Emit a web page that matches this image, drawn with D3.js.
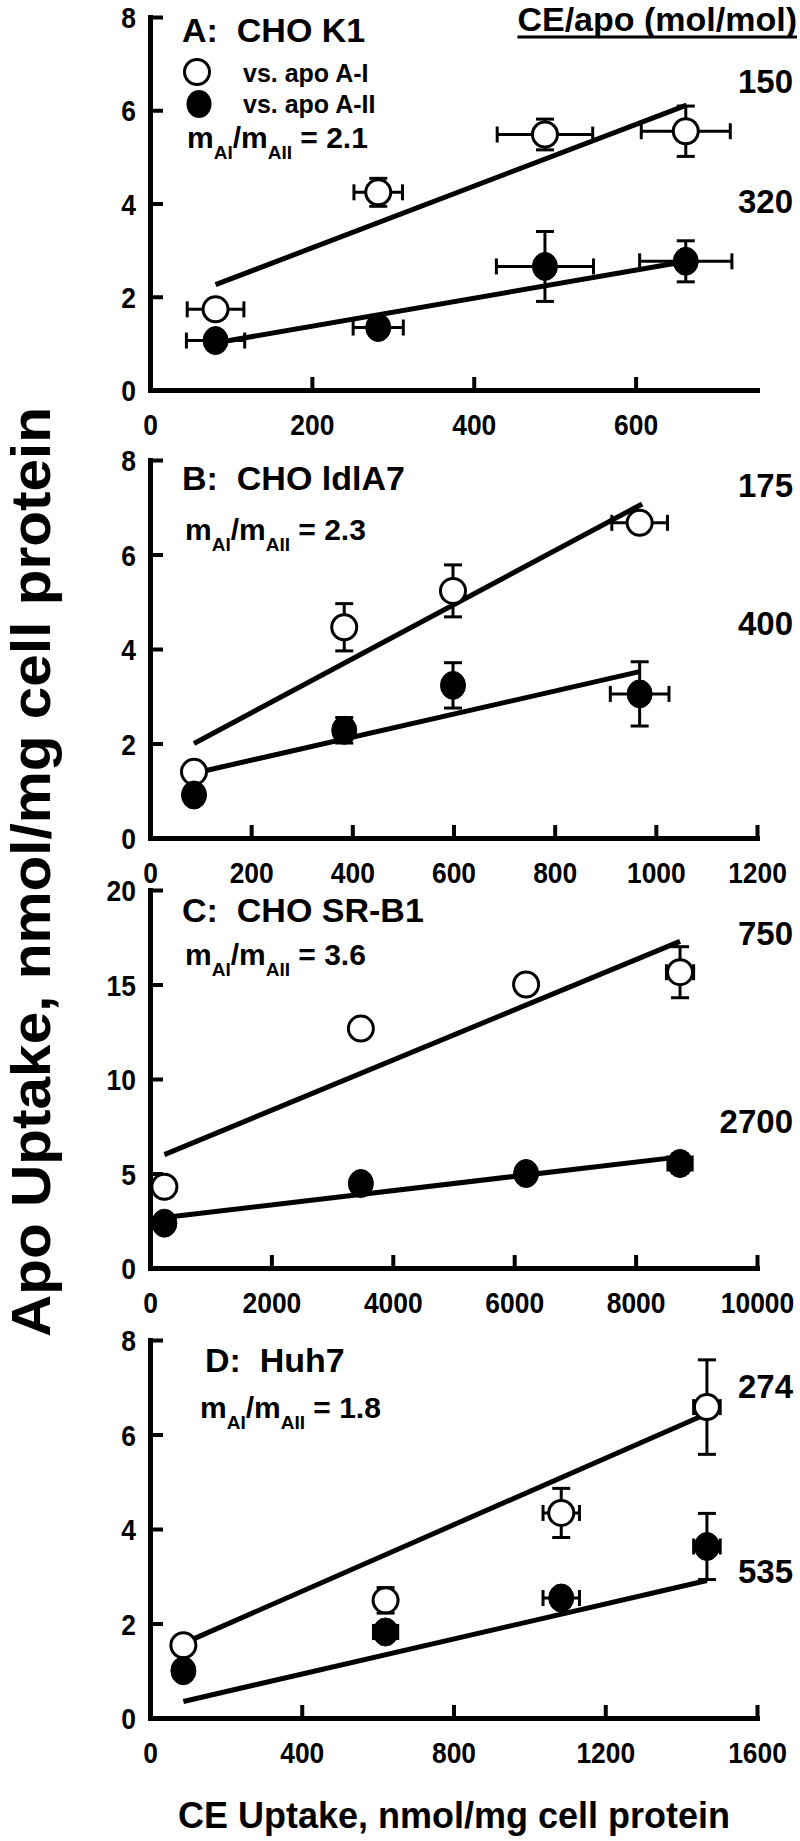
<!DOCTYPE html>
<html><head><meta charset="utf-8">
<script src="https://cdn.jsdelivr.net/npm/d3@7"></script>
<style>
body{margin:0;background:#fff;}
svg text{font-family:"Liberation Sans",Arial,Helvetica,sans-serif;font-weight:bold;fill:#000;}
</style></head><body>
<svg id="chart" width="800" height="1841"></svg>
<script>
// ---------- data ----------
const panelTitles = ["A:  CHO K1", "B:  CHO ldlA7", "C:  CHO SR-B1", "D:  Huh7"];
const slopeRatios = ["2.1", "2.3", "3.6", "1.8"];
const ceApoAI = ["150", "175", "750", "274"];
const ceApoAII = ["320", "400", "2700", "535"];
const xMax = [750, 1200, 10000, 1600];
const yMax = [8, 8, 20, 8];
const xTicks = [[0, 200, 400, 600], [0, 200, 400, 600, 800, 1000, 1200], [0, 2000, 4000, 6000, 8000, 10000], [0, 400, 800, 1200, 1600]];
const yTicks = [[0, 2, 4, 6, 8], [0, 2, 4, 6, 8], [0, 5, 10, 15, 20], [0, 2, 4, 6, 8]];

// CE uptake (x) per panel
const ceA = [81, 282, 488, 662];
const ceB = [87, 384, 599, 968];
const ceC = [237, 3474, 6196, 8732];
const ceD = [88, 621, 1084, 1468];
// x error (CE) for apo A-I / apo A-II points
const ceErrAI_A = [35, 30, 59, 55], ceErrAII_A = [36, 31, 60, 57];
const ceErrAI_B = [0, 0, 0, 55], ceErrAII_B = [0, 0, 0, 58];
const ceErrAI_C = [0, 0, 0, 224], ceErrAII_C = [0, 0, 0, 200];
const ceErrAI_D = [0, 0, 48, 35], ceErrAII_D = [0, 32, 48, 35];
// apo A-I uptake (open) and errors
const apoAI_A = [1.73, 4.24, 5.48, 5.55], apoAIErr_A = [0, 0.3, 0.33, 0.54];
const apoAI_B = [1.40, 4.46, 5.23, 6.67], apoAIErr_B = [0, 0.5, 0.55, 0.1];
const apoAI_C = [4.30, 12.67, 15.0, 15.65], apoAIErr_C = [0, 0, 0, 1.35];
const apoAI_D = [1.54, 2.49, 4.34, 6.58], apoAIErr_D = [0, 0.27, 0.52, 1.0];
// apo A-II uptake (filled) and errors
const apoAII_A = [1.06, 1.34, 2.65, 2.76], apoAIIErr_A = [0, 0, 0.75, 0.44];
const apoAII_B = [0.91, 2.28, 3.23, 3.05], apoAIIErr_B = [0, 0.27, 0.48, 0.68];
const apoAII_C = [2.37, 4.47, 5.0, 5.53], apoAIIErr_C = [0, 0, 0, 0.5];
const apoAII_D = [1.0, 1.82, 2.54, 3.63], apoAIIErr_D = [0, 0, 0, 0.7];
// regression lines [x0, y0, x1, y1]
const fitAI_A = [81, 2.26, 663, 6.11], fitAII_A = [84, 1.02, 660, 2.75];
const fitAI_B = [87, 2.0, 973, 7.07], fitAII_B = [87, 1.37, 968, 3.52];
const fitAI_C = [237, 6.0, 8732, 17.28], fitAII_C = [237, 2.67, 8732, 5.88];
const fitAI_D = [88, 1.58, 1468, 6.44], fitAII_D = [88, 0.35, 1468, 2.91];

const legendLabels = ["vs. apo A-I", "vs. apo A-II"];
const yTitle = "Apo Uptake, nmol/mg cell protein";
const xTitle = "CE Uptake, nmol/mg cell protein";
const headerLabel = "CE/apo (mol/mol)";

// ---------- layout ----------
const panelTop = [17, 460, 890, 1340];
const panelBottom = [390, 838, 1268, 1718];
const xLeft = 150, xRight = 757;
const titlePos = [[182, 42], [182, 490], [182, 922], [205, 1372]];
const ratioPos = [[187, 148], [185, 540], [185, 965], [200, 1418]];
const labAIy = [93, 497, 945, 1398];
const labAIIy = [213, 635, 1133, 1583];

const svg = d3.select("#chart");

const sets = [
  {ce: ceA, eAI: ceErrAI_A, eAII: ceErrAII_A, ai: apoAI_A, aie: apoAIErr_A, aii: apoAII_A, aiie: apoAIIErr_A, fAI: fitAI_A, fAII: fitAII_A},
  {ce: ceB, eAI: ceErrAI_B, eAII: ceErrAII_B, ai: apoAI_B, aie: apoAIErr_B, aii: apoAII_B, aiie: apoAIIErr_B, fAI: fitAI_B, fAII: fitAII_B},
  {ce: ceC, eAI: ceErrAI_C, eAII: ceErrAII_C, ai: apoAI_C, aie: apoAIErr_C, aii: apoAII_C, aiie: apoAIIErr_C, fAI: fitAI_C, fAII: fitAII_C},
  {ce: ceD, eAI: ceErrAI_D, eAII: ceErrAII_D, ai: apoAI_D, aie: apoAIErr_D, aii: apoAII_D, aiie: apoAIIErr_D, fAI: fitAI_D, fAII: fitAII_D}
];

const R = 12.5, CAP = 8;

sets.forEach((s, i) => {
  const x = d3.scaleLinear().domain([0, xMax[i]]).range([xLeft, xRight]);
  const y = d3.scaleLinear().domain([0, yMax[i]]).range([panelBottom[i], panelTop[i]]);
  const g = svg.append("g");

  // axes
  const xAxis = d3.axisBottom(x).tickValues(xTicks[i]).tickFormat(d3.format("d"))
    .tickSizeInner(-13).tickSizeOuter(0).tickPadding(24);
  const yAxis = d3.axisLeft(y).tickValues(yTicks[i]).tickFormat(d3.format("d"))
    .tickSizeInner(-13).tickSizeOuter(0).tickPadding(16);
  const gx = g.append("g").attr("transform", `translate(0,${y(0)})`).call(xAxis);
  const gy = g.append("g").attr("transform", `translate(${xLeft},0)`).call(yAxis);
  [gx, gy].forEach(a => {
    a.select(".domain").attr("stroke", "#000").attr("stroke-width", 5).attr("stroke-linecap", "square");
    a.selectAll(".tick line").attr("stroke", "#000").attr("stroke-width", 4);
    a.selectAll(".tick text").style("font-size", "30px").attr("transform", "scale(0.88,1)");
  });
  gy.selectAll(".tick text").attr("dy", "0.35em");
  gx.selectAll(".tick").filter(d => d === 0).select("line").remove();
  gy.selectAll(".tick").filter(d => d === 0).select("line").remove();

  // fit lines
  [s.fAI, s.fAII].forEach(f => {
    g.append("line").attr("x1", x(f[0])).attr("y1", y(f[1])).attr("x2", x(f[2])).attr("y2", y(f[3]))
      .attr("stroke", "#000").attr("stroke-width", 5);
  });

  // error bars + markers
  const series = [
    {ys: s.ai, ye: s.aie, xe: s.eAI, open: true},
    {ys: s.aii, ye: s.aiie, xe: s.eAII, open: false}
  ];
  series.forEach(se => {
    const eb = g.append("g").attr("stroke", "#000").attr("stroke-width", 3).attr("fill", "none");
    s.ce.forEach((cx, k) => {
      const px = x(cx), py = y(se.ys[k]);
      if (se.xe[k] > 0) {
        const x0 = x(cx - se.xe[k]), x1 = x(cx + se.xe[k]);
        eb.append("line").attr("x1", x0).attr("x2", x1).attr("y1", py).attr("y2", py);
        eb.append("line").attr("x1", x0).attr("x2", x0).attr("y1", py - CAP).attr("y2", py + CAP);
        eb.append("line").attr("x1", x1).attr("x2", x1).attr("y1", py - CAP).attr("y2", py + CAP);
      }
      if (se.ye[k] > 0) {
        const y0 = y(se.ys[k] - se.ye[k]), y1 = y(se.ys[k] + se.ye[k]);
        eb.append("line").attr("x1", px).attr("x2", px).attr("y1", y0).attr("y2", y1);
        eb.append("line").attr("x1", px - CAP - 1).attr("x2", px + CAP + 1).attr("y1", y0).attr("y2", y0);
        eb.append("line").attr("x1", px - CAP - 1).attr("x2", px + CAP + 1).attr("y1", y1).attr("y2", y1);
      }
    });
  });
  series.forEach(se => {
    g.append("g").selectAll("ellipse").data(s.ce).join("ellipse")
      .attr("cx", d => x(d)).attr("cy", (d, k) => y(se.ys[k]))
      .attr("rx", R).attr("ry", se.open ? R : R + 1.5)
      .attr("fill", se.open ? "#fff" : "#000").attr("stroke", "#000").attr("stroke-width", se.open ? 3 : 1);
  });

  // panel title
  g.append("text").attr("x", titlePos[i][0]).attr("y", titlePos[i][1]).style("font-size", "34px")
    .attr("xml:space", "preserve").text(panelTitles[i]);
  // slope ratio
  const rt = g.append("text").attr("x", ratioPos[i][0]).attr("y", ratioPos[i][1]).style("font-size", "30px");
  rt.append("tspan").text("m");
  rt.append("tspan").attr("dy", 11).style("font-size", "19px").text("AI");
  rt.append("tspan").attr("dy", -11).text("/m");
  rt.append("tspan").attr("dy", 11).style("font-size", "19px").text("AII");
  rt.append("tspan").attr("dy", -11).text(" = " + slopeRatios[i]);
  // CE/apo labels
  g.append("text").attr("x", 793).attr("y", labAIy[i]).attr("text-anchor", "end").style("font-size", "33px").text(ceApoAI[i]);
  g.append("text").attr("x", 793).attr("y", labAIIy[i]).attr("text-anchor", "end").style("font-size", "33px").text(ceApoAII[i]);
});

// legend (panel A)
svg.append("ellipse").attr("cx", 197).attr("cy", 72).attr("rx", R).attr("ry", R).attr("fill", "#fff").attr("stroke", "#000").attr("stroke-width", 3);
svg.append("ellipse").attr("cx", 199).attr("cy", 104).attr("rx", R).attr("ry", R + 1.5).attr("fill", "#000");
svg.append("text").attr("x", 243).attr("y", 82).style("font-size", "25px").text(legendLabels[0]);
svg.append("text").attr("x", 243).attr("y", 113).style("font-size", "25px").text(legendLabels[1]);

// header
const hd = svg.append("text").attr("x", 797).attr("y", 31).attr("text-anchor", "end").style("font-size", "34px").text(headerLabel);
const bb = hd.node().getBBox();
svg.append("line").attr("x1", bb.x).attr("x2", bb.x + bb.width).attr("y1", 37).attr("y2", 37).attr("stroke", "#000").attr("stroke-width", 3);

// axis titles
svg.append("text").attr("transform", "translate(50,872) rotate(-90)").attr("text-anchor", "middle")
  .attr("textLength", 930).attr("lengthAdjust", "spacingAndGlyphs")
  .style("font-size", "55px").text(yTitle);
svg.append("text").attr("x", 454).attr("y", 1828).attr("text-anchor", "middle").style("font-size", "36px").text(xTitle);
</script></body></html>
